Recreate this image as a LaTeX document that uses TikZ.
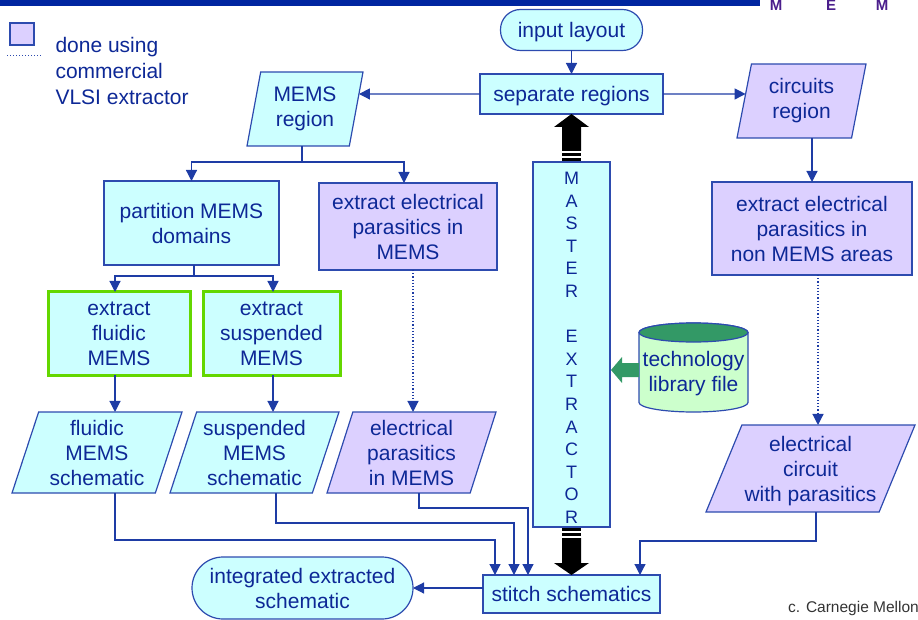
\documentclass[tikz,border=0pt]{standalone}
\usepackage{fontspec}
\setmainfont{Liberation Sans}
\usetikzlibrary{arrows.meta,shapes.geometric,calc}
\definecolor{ink}{RGB}{13,40,150}
\definecolor{edge}{RGB}{45,75,175}
\definecolor{wire}{RGB}{30,60,165}
\definecolor{aqua}{RGB}{204,255,255}
\definecolor{lilac}{RGB}{220,208,255}
\definecolor{lime}{RGB}{100,215,0}
\definecolor{mint}{RGB}{204,255,204}
\definecolor{jade}{RGB}{51,153,102}
\definecolor{navy}{RGB}{0,38,160}
\definecolor{plum}{RGB}{75,30,140}
\begin{document}
\begin{tikzpicture}[x=1pt,y=-1pt,
  % single-line labels get the full ascent and descent of the font
  struts/.style={execute at begin node={\rule{0pt}{19pt}},
    execute at end node={\rule[-4.5pt]{0pt}{0pt}}},
  base/.style={draw=edge, line width=1.2pt, text=ink, align=center,
    inner sep=0pt, outer sep=0pt, font=\fontsize{21}{25}\selectfont},
  proc/.style={base, rectangle, fill=aqua},
  ext/.style={base, rectangle, fill=lilac},
  fluid/.style={proc, draw=lime, line width=3pt},
  term/.style={base, rectangle, rounded corners=#1, fill=aqua},
  data/.style 2 args={base, trapezium, trapezium stretches body,
    trapezium left angle=#1, trapezium right angle=#2},
  link/.style={draw=wire, line width=1.2pt, -{Triangle[length=11pt,width=11pt]}},
  dots/.style={link, dotted},
  logo/.style={text=plum, font=\bfseries\fontsize{15}{15}\selectfont, anchor=base},
]
\useasboundingbox (0,0) rectangle (918,620);

% header bar and logo letters
\fill[navy] (0,0) rectangle (760,6);
\node[logo] (l1) at (776,11) {M};
\node[logo] (l2) at (831,11) {E};
\node[logo] (l3) at (882,11) {M};

% legend
\node[ext, minimum width=24pt, minimum height=22pt] (key) at (22,34) {};
\draw[draw=edge, line width=1pt, dotted] (7,56) -- (43,56);
\node[text=ink, font=\fontsize{21}{26}\selectfont, align=left, anchor=west] (keytext) at (52,71)
  {done using\\commercial\\VLSI extractor};

% flow nodes
\node[term=20pt, struts, minimum width=142pt, minimum height=41pt] (inlay) at (571.5,30) {input layout};
\node[proc, struts, minimum width=183pt, minimum height=40pt] (sep) at (571.5,94) {separate regions};
\node[data={72.73}{107.27}, fill=aqua, minimum width=116pt, minimum height=74pt] (memsreg) at (305,109) {MEMS\\region};
\node[data={72.03}{107.97}, fill=lilac, minimum width=129pt, minimum height=74pt] (circreg) at (801.5,101) {circuits\\region};
\node[proc, minimum width=175pt, minimum height=84pt] (part) at (191.5,223) {partition MEMS\\domains};
\node[ext, minimum width=178pt, minimum height=87pt] (exem) at (408,226.5) {extract electrical\\parasitics in\\MEMS};
\node[ext, minimum width=200pt, minimum height=93pt] (exnon) at (812,228.5) {extract electrical\\parasitics in\\non MEMS areas};
\node[fluid, minimum width=142pt, minimum height=83pt] (efl) at (119,333.5) {extract\\fluidic\\MEMS};
\node[fluid, minimum width=137pt, minimum height=83pt] (esu) at (271.5,333.5) {extract\\suspended\\MEMS};
\node[proc, minimum width=77pt, minimum height=365pt, font=\fontsize{18}{22.6}\selectfont] (master) at (571.5,344.5)
  {\rule{0pt}{19pt}M\\A\\S\\T\\E\\R\\[22.6pt]E\\X\\T\\R\\A\\C\\T\\O\\R};
\node[data={67.83}{112.17}, fill=aqua, minimum width=170pt, minimum height=81pt] (fls) at (97,452.5) {fluidic\\MEMS\\schematic};
\node[data={67.83}{112.17}, fill=aqua, minimum width=169pt, minimum height=81pt] (sus) at (254.5,452.5) {suspended\\MEMS\\schematic};
\node[data={68.44}{111.56}, fill=lilac, minimum width=169pt, minimum height=81pt] (epm) at (411.5,452.5) {electrical\\parasitics\\in MEMS};
\node[data={64.23}{115.77}, fill=lilac, minimum width=209pt, minimum height=87pt] (ecp) at (810.5,468.5) {\rule{0pt}{20pt}electrical\\circuit\\with parasitics};
\node[proc, struts, minimum width=177pt, minimum height=38pt] (stitch) at (571.5,594) {stitch schematics};
\node[term=31pt, minimum width=221pt, minimum height=62pt] (integ) at (302.5,588) {integrated extracted\\schematic};

% technology library cylinder
\path[fill=mint, draw=edge, line width=1.2pt]
  (639,332.5) -- (639,402.5) arc[start angle=180, end angle=360, x radius=54.5, y radius=-9.5]
  -- (748,332.5) arc[start angle=0, end angle=180, x radius=54.5, y radius=-9.5] -- cycle;
\path[fill=jade, draw=edge, line width=1.2pt] (693.5,332.5) ellipse[x radius=54.5, y radius=9.5];
\node[text=ink, align=center, font=\fontsize{21}{25}\selectfont, inner sep=0pt] (tech) at (693.5,374) {technology\\library file};
\fill[jade] (611,370) -- (622,357) -- (622,363) -- (639,363) -- (639,377) -- (622,377) -- (622,383) -- cycle;

% master extractor striped arrows
\fill[black] (sep.south) -- ($(sep.south)+(17.5,13)$) -- ($(sep.south)+(9.5,13)$)
  -- ($(master.north)+(9.5,-11)$) -- ($(master.north)+(-9.5,-11)$)
  -- ($(sep.south)+(-9.5,13)$) -- ($(sep.south)+(-17.5,13)$) -- cycle;
\fill[black] ($(master.north)+(-9.5,-9)$) rectangle ($(master.north)+(9.5,-5.5)$);
\fill[black] ($(master.north)+(-9.5,-3.5)$) rectangle ($(master.north)+(9.5,-1)$);
\fill[black] ($(master.south)+(-9.5,1)$) rectangle ($(master.south)+(9.5,3.5)$);
\fill[black] ($(master.south)+(-9.5,5.5)$) rectangle ($(master.south)+(9.5,9)$);
\fill[black] ($(master.south)+(-9.5,11)$) -- ($(master.south)+(9.5,11)$)
  -- ($(stitch.north)+(9.5,-12)$) -- ($(stitch.north)+(17.5,-12)$) -- (stitch.north)
  -- ($(stitch.north)+(-17.5,-12)$) -- ($(stitch.north)+(-9.5,-12)$) -- cycle;

% connectors
\draw[link] (inlay.south) -- (sep.north);
\draw[link] (sep.west) -- ($(memsreg.top right corner)!0.297!(memsreg.bottom right corner)$);
\draw[link] (sep.east) -- ($(circreg.top left corner)!0.405!(circreg.bottom left corner)$);
\draw[link] ([xshift=-3pt]memsreg.center |- memsreg.south) -- ++(0,16) -| (part.north);
\draw[link] ([xshift=-3pt]memsreg.center |- memsreg.south) -- ++(0,16) -| ([xshift=-4pt]exem.north);
\draw[link] (exnon.north |- circreg.south) -- (exnon.north);
\draw[link] ([xshift=2.5pt]part.south) -- ++(0,11) -| ([xshift=-4pt]efl.north);
\draw[link] ([xshift=2.5pt]part.south) -- ++(0,11) -| ([xshift=1.5pt]esu.north);
\draw[link] ([xshift=-4pt]efl.south) -- ([xshift=-4pt]efl.south |- fls.north);
\draw[link] ([xshift=1.5pt]esu.south) -- ([xshift=1.5pt]esu.south |- sus.north);
\draw[dots] ([xshift=5pt]exem.south) -- ([xshift=5pt]exem.south |- epm.north);
\draw[dots] ([xshift=6pt]exnon.south) -- ([xshift=6pt]exnon.south |- ecp.north);
\draw[link] ([xshift=-4pt]efl.south |- fls.south) -- ++(0,47) -| ([xshift=-76.5pt]stitch.north);
\draw[link] ([xshift=4.5pt]esu.south |- sus.south) -- ++(0,30) -| ([xshift=-57.5pt]stitch.north);
\draw[link] ([xshift=7.5pt]epm.south) -- ++(0,15) -| ([xshift=-43.5pt]stitch.north);
\draw[link] ([xshift=5.5pt]ecp.south) -- ++(0,29) -| ([xshift=68.5pt]stitch.north);
\draw[link] (integ.east -| stitch.west) -- (integ.east);

% credit line
\node[anchor=west, text=black!80, font=\fontsize{15.5}{18}\selectfont, inner sep=0pt] (credit) at (788,608) {c. Carnegie Mellon};
\end{tikzpicture}
\end{document}
